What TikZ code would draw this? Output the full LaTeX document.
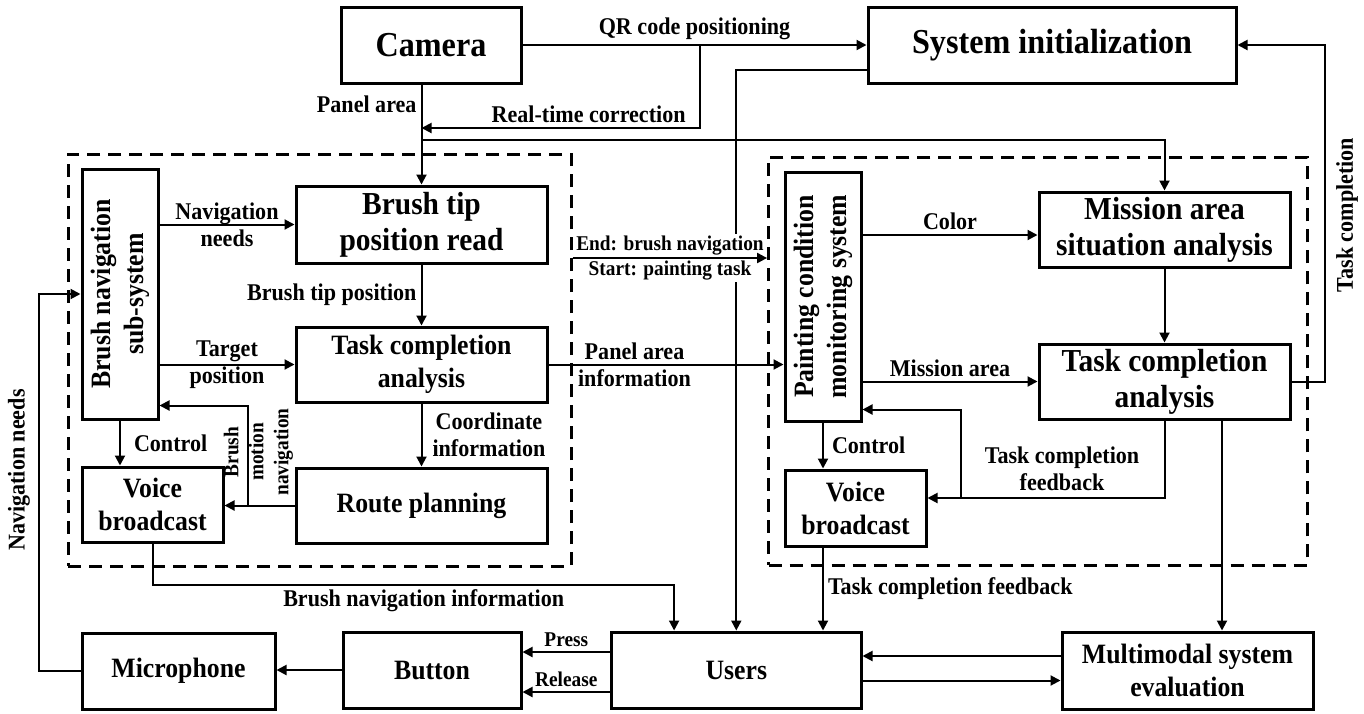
\documentclass[tikz,border=0pt]{standalone}
\usepackage{fontspec}
\setmainfont{Liberation Serif}[FakeStretch=0.92]
\usetikzlibrary{arrows.meta}

\newcommand{\hugefnt}{\fontsize{17.5}{20}\selectfont\bfseries}
\newcommand{\bigfnt}{\fontsize{16}{18}\selectfont\bfseries}
\newcommand{\midfnt}{\fontsize{14}{16.5}\selectfont\bfseries}
\newcommand{\lblfnt}{\fontsize{12}{13.5}\selectfont\bfseries}
\newcommand{\smlfnt}{\fontsize{10.5}{12.5}\selectfont\bfseries}

\tikzset{
  box/.style={draw, line width=1.5pt, align=center, inner sep=0pt, font=\midfnt},
  group/.style={draw, line width=1.5pt, dash pattern=on 6.5pt off 4pt, inner sep=0pt},
  conn/.style={line width=1pt, -{Triangle[length=5pt,width=5pt]}},
  lbl/.style={font=\lblfnt, align=center, inner sep=2pt}
}

\begin{document}
\begin{tikzpicture}[x=0.5pt, y=-0.5pt]

      \useasboundingbox (0,0) rectangle (1364,713);

      \node[group, minimum width=251.5pt, minimum height=206pt] (leftgroup)  at (319.5,360) {};
      \node[group, minimum width=269.2pt, minimum height=204pt] (rightgroup) at (1037.8,361) {};

      \begin{scope}[every node/.style={box}]
        \node[font=\hugefnt, minimum width=90pt,    minimum height=38pt]   (camera)   at (431,45)      {Camera};
        \node[font=\hugefnt, minimum width=184pt,   minimum height=38pt]   (sysinit)  at (1052,45)     {System initialization};
        \node[minimum width=38pt,    minimum height=125pt]  (brushnav) at (120,294)
          {\rotatebox{90}{\begin{tabular}{@{}c@{}}Brush navigation\\sub-system\end{tabular}}};
        \node[font=\bigfnt, minimum width=125.5pt, minimum height=38.5pt] (brushtip) at (421.5,224.5)  {Brush tip\\position read};
        \node[minimum width=125.5pt, minimum height=37.5pt] (taskL)    at (421.5,364.5)  {Task completion\\analysis};
        \node[minimum width=70.5pt,  minimum height=37.5pt] (voiceL)   at (152.5,504.5)  {Voice\\broadcast};
        \node[minimum width=125.5pt, minimum height=37.5pt] (route)    at (421.5,505.5)  {Route planning};
        \node[minimum width=38pt,    minimum height=124.5pt] (painting) at (823,296.5)
          {\rotatebox{90}{\begin{tabular}{@{}c@{}}Painting condition\\monitoring system\end{tabular}}};
        \node[font=\bigfnt, minimum width=125.5pt, minimum height=37.5pt] (mission) at (1164.5,229.5) {Mission area\\situation analysis};
        \node[font=\bigfnt, minimum width=125.5pt, minimum height=37.5pt] (taskR)   at (1164.5,381.5) {Task completion\\analysis};
        \node[minimum width=70.5pt,  minimum height=38pt]   (voiceR)   at (855.5,508)    {Voice\\broadcast};
        \node[minimum width=96.5pt,  minimum height=38pt]   (mic)      at (178.5,671)    {Microphone};
        \node[minimum width=89pt,    minimum height=38pt]   (button)   at (432,670)      {Button};
        \node[minimum width=124.7pt, minimum height=38pt]   (users)    at (736.3,670)    {Users};
        \node[minimum width=125.5pt, minimum height=38.5pt] (multi)    at (1187.5,670.5) {Multimodal system\\evaluation};
      \end{scope}

      \begin{scope}[every node/.style={lbl}]
        \coordinate (qrsplit)     at (700,46);
        \coordinate (rtcin)       at (421.5,128);
        \coordinate (panelsplit)  at (421.5,140);
        \coordinate (motionsplit) at (248,505.5);
        \coordinate (feedsplit)   at (961,498);
        \coordinate (colorin)     at ([yshift=-2.75pt]mission.west);
        \coordinate (feedin)      at ([yshift=5pt]voiceR.east);
        \coordinate (evalout)     at ([xshift=28.75pt]taskR.south);
        \coordinate (evalback)    at ([yshift=7.25pt]multi.west);
        \coordinate (evalin)      at ([yshift=-5.25pt]users.east);
        \coordinate (pressout)    at ([yshift=9pt]users.west);
        \coordinate (releaseout)  at ([yshift=-11pt]users.west);

        \draw[conn] (camera.east) -- node[above] (qrlbl) {QR code positioning} (sysinit.west);
        \draw[conn] (qrsplit) |- node[above, pos=0.7] (rtclbl) {Real-time correction} (rtcin);
        \draw[conn] (camera.south -| brushtip.north) -- node[left, pos=0.2] (panellbl) {Panel area} (brushtip.north);
        \draw[conn] (panelsplit) -| (mission.north);
        \draw[conn] (sysinit.south west) ++(0,-15) -| (users.north);

        \draw[conn] (brushnav.east |- brushtip.west) -- node (navlbl) {Navigation\\needs} (brushtip.west);
        \draw[conn] (brushtip) -- node[left] (tiplbl) {Brush tip position} (taskL);
        \draw[conn] (brushnav.east |- taskL.west) -- node (tgtlbl) {Target\\position} (taskL.west);
        \draw[conn] (taskL.east) -- node[pos=0.366] (infolbl) {Panel area\\information} (taskL.east -| painting.west);
        \draw[conn] (brushnav.south) -- node[right, xshift=4.5pt] (ctrlLlbl) {Control} (brushnav.south |- voiceL.north);
        \draw[conn] (taskL) -- node[right, xshift=3pt] (coordlbl) {Coordinate\\information} (route);
        \draw[conn] (route.west) -- (route.west -| voiceL.east);
        \draw[conn] (motionsplit) |- ([yshift=7.5pt]brushnav.south east);
        \node[font=\smlfnt, rotate=90] (motionlbl) at (258.5,452) {Brush\\motion\\navigation};
        \draw[conn] (voiceL.south) -- ++(0,41) -| node[below, pos=0.26] (bnilbl) {Brush navigation information} ([xshift=32pt]users.north west);

        \draw[conn] (pressout) -- node[above, font=\smlfnt] (presslbl) {Press} (pressout -| button.east);
        \draw[conn] (releaseout) -- node[above, font=\smlfnt] (releaselbl) {Release} (releaseout -| button.east);
        \draw[conn] (button.west) -- (button.west -| mic.east);
        \draw[conn] (mic.west) -- ++(-42,0) |- (brushnav.west);
        \node[rotate=90] (navneedslbl) at (19,470) {Navigation needs};

        \draw[conn] (colorin -| painting.east) -- node[above] (colorlbl) {Color} (colorin);
        \draw[conn] (mission) -- (taskR);
        \draw[conn] (painting.east |- taskR.west) -- node[above] (arealbl) {Mission area} (taskR.west);
        \draw[conn] (painting.south) -- node[right, xshift=2pt] (ctrlRlbl) {Control} (painting.south |- voiceR.north);
        \draw[conn] (taskR.south) |- (feedin);
        \draw[conn] (feedsplit) |- ([yshift=6.5pt]painting.south east);
        \node (feedlbl) at (1062,469) {Task completion\\feedback};
        \draw[conn] (painting.south |- voiceR.south) -- node[right] (tcflbl) {Task completion feedback} (painting.south |- users.north);
        \draw[conn] (evalout) -- (evalout |- multi.north);
        \draw[conn] (evalback) -- (evalback -| users.east);
        \draw[conn] (evalin) -- (evalin -| multi.west);
        \draw[conn] (taskR.east) -- ++(33.5,0) |- (sysinit.east);
        \node[rotate=90] (donelbl) at (1347,215) {Task completion};

        \node[font=\smlfnt, fill=white, inner sep=1pt] (switchlbl) at (670,258) {End: brush navigation\\Start: painting task};
        \draw[conn] ([yshift=51pt]leftgroup.east) -- ([yshift=51.5pt]rightgroup.west);
      \end{scope}

    \end{tikzpicture}
\end{document}
